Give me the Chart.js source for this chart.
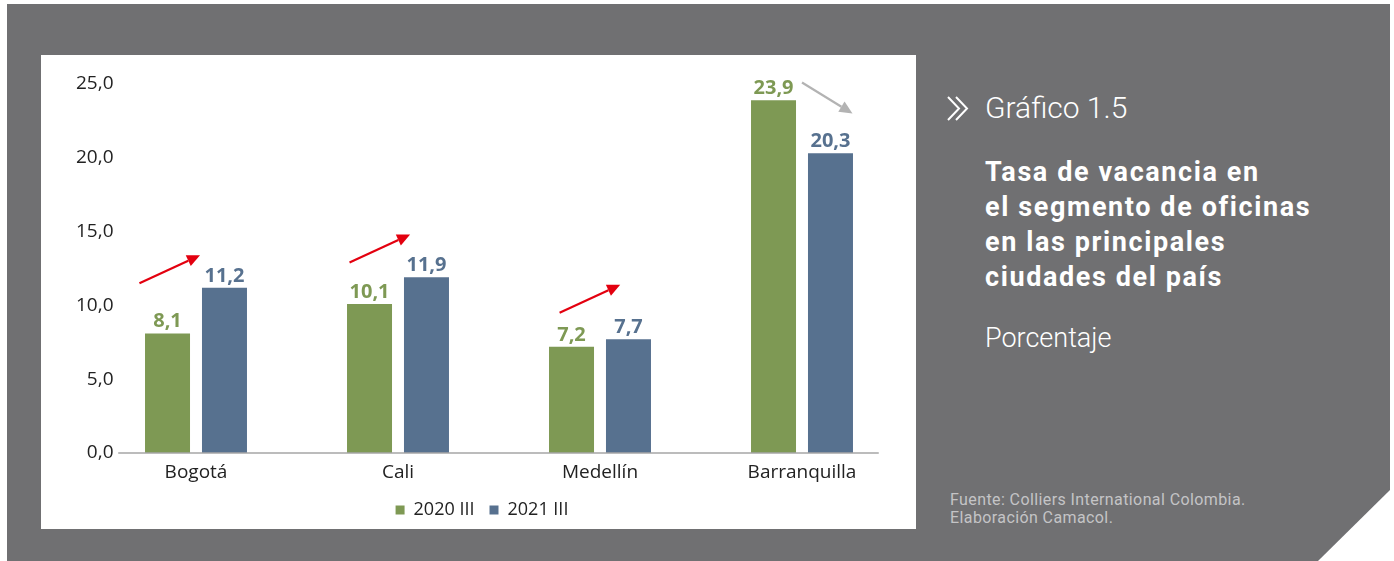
<!DOCTYPE html>
<html>
<head>
<meta charset="utf-8">
<script src="https://cdn.jsdelivr.net/npm/chart.js@4/dist/chart.umd.min.js"></script>
<style>
  html, body { margin:0; padding:0; background:#ffffff; width:1394px; height:561px; overflow:hidden; }
  #panel { position:absolute; left:7px; top:4px; width:1383px; height:557px; background:#707072;
           clip-path: polygon(0 0, 100% 0, 100% 486px, 1311px 100%, 0 100%); }
  #box { position:absolute; left:41px; top:55px; width:875px; height:474px; background:#ffffff; }
  #box canvas { position:absolute; left:0; top:0; }
  .side { position:absolute; color:#ffffff; font-family: Roboto, "Liberation Sans", sans-serif; white-space:nowrap; }
  #num { left:985px; top:90px; font-size:30px; font-weight:300; }
  #title { left:985px; top:155px; font-size:27px; font-weight:700; line-height:35px; letter-spacing:1.6px; }
  #unit { left:985px; top:322px; font-size:27px; font-weight:300; }
  #src { left:950px; top:491px; font-size:16px; line-height:18px; color:#c4c4c6; font-weight:400; letter-spacing:0.4px; }
  #chev { position:absolute; left:946px; top:96px; }
</style>
</head>
<body>
<div id="panel"></div>
<div id="box"><canvas id="c" width="875" height="474"></canvas></div>
<svg id="chev" width="26" height="26" viewBox="0 0 26 26">
  <polyline points="2,1 13,12.5 2,24" fill="none" stroke="#ffffff" stroke-width="2"/>
  <polyline points="10,1 21,12.5 10,24" fill="none" stroke="#ffffff" stroke-width="2"/>
</svg>
<div class="side" id="num">Gráfico 1.5</div>
<div class="side" id="title">Tasa de vacancia en<br>el segmento de oficinas<br>en las principales<br>ciudades del país</div>
<div class="side" id="unit">Porcentaje</div>
<div class="side" id="src">Fuente: Colliers International Colombia.<br>Elaboración Camacol.</div>
<script>
// ---- data ----
const categories = ['Bogotá', 'Cali', 'Medellín', 'Barranquilla'];
const seriesNames = ['2020 III', '2021 III'];
const values2020 = [8.1, 10.1, 7.2, 23.9];
const values2021 = [11.2, 11.9, 7.7, 20.3];
const yTicks = [0, 5, 10, 15, 20, 25];
// annotation arrows (x in category-index units, y in data units)
const arrowFromX = [-0.28, 0.76, 1.80, 3.00];
const arrowFromY = [11.5, 12.9, 9.5, 25.1];
const arrowToX   = [0.02, 1.06, 2.10, 3.25];
const arrowToY   = [13.4, 14.8, 11.4, 23.0];
const arrowColors = ['#e3000f', '#e3000f', '#e3000f', '#b3b3b3'];

const GREEN = '#7e9954';
const BLUE = '#57718f';
const FONT = '"Open Sans", sans-serif';
const fmt = v => v.toFixed(1).replace('.', ',');

const valueLabels = {
  id: 'valueLabels',
  afterDatasetsDraw(chart) {
    const ctx = chart.ctx;
    ctx.save();
    ctx.font = 'bold 20px ' + FONT;
    ctx.textAlign = 'center';
    ctx.textBaseline = 'alphabetic';
    chart.data.datasets.forEach((ds, di) => {
      const meta = chart.getDatasetMeta(di);
      ctx.fillStyle = ds.backgroundColor;
      meta.data.forEach((bar, i) => {
        ctx.fillText(fmt(ds.data[i]), bar.x, bar.y - 6);
      });
    });
    ctx.restore();
  }
};

const axisLine = {
  id: 'axisLine',
  afterDatasetsDraw(chart) {
    const ctx = chart.ctx, x = chart.scales.x, y = chart.scales.y;
    const catW = (x.right - x.left) / categories.length;
    const y0 = y.getPixelForValue(0);
    ctx.save();
    ctx.strokeStyle = '#a6a6a6';
    ctx.lineWidth = 1.5;
    ctx.beginPath();
    ctx.moveTo(x.left + catW * 0.115, y0);
    ctx.lineTo(x.right - catW * 0.12, y0);
    ctx.stroke();
    ctx.restore();
  }
};

const arrows = {
  id: 'arrows',
  afterDatasetsDraw(chart) {
    const ctx = chart.ctx, xs = chart.scales.x, ys = chart.scales.y;
    const catW = (xs.right - xs.left) / categories.length;
    const px = v => xs.left + (v + 0.5) * catW;
    ctx.save();
    for (let i = 0; i < arrowFromX.length; i++) {
      const x1 = px(arrowFromX[i]), y1 = ys.getPixelForValue(arrowFromY[i]);
      const x2 = px(arrowToX[i]), y2 = ys.getPixelForValue(arrowToY[i]);
      const ang = Math.atan2(y2 - y1, x2 - x1);
      const head = 13, hw = 6;
      const bx = x2 - head * Math.cos(ang), by = y2 - head * Math.sin(ang);
      ctx.strokeStyle = arrowColors[i];
      ctx.fillStyle = arrowColors[i];
      ctx.lineWidth = 2.2;
      ctx.beginPath();
      ctx.moveTo(x1, y1);
      ctx.lineTo(bx, by);
      ctx.stroke();
      ctx.beginPath();
      ctx.moveTo(x2, y2);
      ctx.lineTo(bx + hw * Math.sin(ang), by - hw * Math.cos(ang));
      ctx.lineTo(bx - hw * Math.sin(ang), by + hw * Math.cos(ang));
      ctx.closePath();
      ctx.fill();
    }
    ctx.restore();
  }
};

new Chart(document.getElementById('c'), {
  type: 'bar',
  data: {
    labels: categories,
    datasets: [
      { label: seriesNames[0], data: values2020, backgroundColor: GREEN },
      { label: seriesNames[1], data: values2021, backgroundColor: BLUE }
    ]
  },
  options: {
    responsive: false,
    animation: false,
    devicePixelRatio: 1,
    layout: { padding: { left: 20, right: 13, top: 29, bottom: 0 } },
    datasets: { bar: { categoryPercentage: 0.564, barPercentage: 0.79 } },
    scales: {
      x: {
        grid: { display: false },
        border: { display: false },
        ticks: { color: '#222222', font: { size: 19, family: FONT }, mirror: true, padding: -31.4 },
        afterFit(s) { s.height = 33; }
      },
      y: {
        min: 0, max: 25,
        grid: { display: false },
        border: { display: false },
        afterBuildTicks(s) { s.ticks = yTicks.map(v => ({ value: v })); },
        ticks: {
          color: '#222222', font: { size: 19, family: FONT },
          mirror: true, crossAlign: 'far',
          padding: -19,
          callback: v => fmt(v)
        },
        afterFit(s) { s.width = 34; }
      }
    },
    plugins: {
      legend: {
        position: 'bottom',
        labels: { boxWidth: 9, boxHeight: 9, color: '#222222', padding: 15,
                  font: { size: 18, family: FONT } }
      },
      tooltip: { enabled: false }
    }
  },
  plugins: [valueLabels, axisLine, arrows]
});
</script>
</body>
</html>
